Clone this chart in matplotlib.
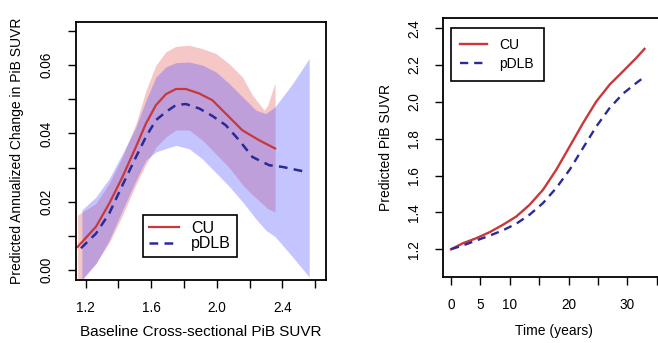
import matplotlib
matplotlib.use("Agg")
import matplotlib.pyplot as plt

plt.rcParams['font.family'] = ['Liberation Sans', 'DejaVu Sans']

# ---- Left panel data: annualized change vs baseline SUVR ----
cu_x = [1.151, 1.263, 1.344, 1.425, 1.507, 1.568, 1.629, 1.690, 1.751, 1.812,
        1.893, 1.974, 2.055, 2.157, 2.259, 2.356]
cu_y = [0.0068, 0.0127, 0.0195, 0.0273, 0.0361, 0.0429, 0.0483, 0.0515, 0.0530,
        0.0530, 0.0517, 0.0497, 0.0458, 0.0409, 0.0380, 0.0356]

cu_band_x = [1.151, 1.263, 1.344, 1.425, 1.507, 1.568, 1.629, 1.690, 1.751, 1.832,
             1.913, 1.995, 2.076, 2.157, 2.218, 2.289, 2.310, 2.356]
cu_upper = [0.0161, 0.0195, 0.0254, 0.0332, 0.0429, 0.0526, 0.0600, 0.0639, 0.0655,
            0.0658, 0.0648, 0.0634, 0.0604, 0.0565, 0.0512, 0.0468, 0.0482, 0.0548]
cu_lower = [-0.004, 0.002, 0.008, 0.016, 0.025, 0.031, 0.036, 0.039, 0.041, 0.041,
            0.038, 0.034, 0.030, 0.025, 0.022, 0.019, 0.018, 0.017]

dlb_x = [1.171, 1.263, 1.344, 1.425, 1.507, 1.568, 1.629, 1.690, 1.751, 1.812,
         1.893, 1.974, 2.055, 2.137, 2.218, 2.320, 2.401, 2.539]
dlb_y = [0.0064, 0.0107, 0.0166, 0.0249, 0.0331, 0.0390, 0.0439, 0.0463, 0.0483,
         0.0486, 0.0473, 0.0451, 0.0424, 0.0380, 0.0331, 0.0307, 0.0302, 0.0288]

dlb_band_x = [1.177, 1.263, 1.344, 1.425, 1.507, 1.568, 1.629, 1.690, 1.751, 1.832,
              1.913, 1.995, 2.076, 2.157, 2.239, 2.299, 2.356, 2.462, 2.564]
dlb_upper = [0.0176, 0.0214, 0.0268, 0.0341, 0.0419, 0.0497, 0.0565, 0.0595, 0.0607,
             0.0609, 0.0600, 0.0580, 0.0546, 0.0507, 0.0468, 0.0458, 0.0478, 0.0545, 0.0619]
dlb_lower = [-0.003, 0.0019, 0.0088, 0.0176, 0.0263, 0.0322, 0.0346, 0.0356, 0.0365,
             0.0355, 0.0325, 0.0285, 0.0245, 0.0200, 0.0150, 0.0117, 0.0098, 0.0039, -0.002]

# ---- Right panel data: predicted SUVR vs time ----
time_years = [0, 2.04, 4.31, 6.58, 8.84, 11.11, 13.38, 15.65, 17.91, 20.18,
              22.45, 24.72, 26.98, 29.25, 31.52, 32.9]
cu_suvr = [1.200, 1.233, 1.260, 1.293, 1.333, 1.378, 1.442, 1.523, 1.632, 1.758,
           1.885, 2.003, 2.094, 2.166, 2.239, 2.288]
dlb_suvr = [1.200, 1.221, 1.248, 1.274, 1.303, 1.339, 1.388, 1.451, 1.533, 1.632,
            1.750, 1.867, 1.967, 2.045, 2.103, 2.136]

left_xticks = [1.2, 1.4, 1.6, 1.8, 2.0, 2.2, 2.4, 2.6]
left_xticklabels = ['1.2', '', '1.6', '', '2.0', '', '2.4', '']
left_yticks = [0.00, 0.01, 0.02, 0.03, 0.04, 0.05, 0.06, 0.07]
left_yticklabels = ['0.00', '', '0.02', '', '0.04', '', '0.06', '']
right_xticks = [0, 5, 10, 15, 20, 25, 30, 35]
right_xticklabels = ['0', '5', '10', '', '20', '', '30', '']
right_yticks = [1.2, 1.4, 1.6, 1.8, 2.0, 2.2, 2.4]
right_yticklabels = ['1.2', '1.4', '1.6', '1.8', '2.0', '2.2', '2.4']

RED = '#C8383A'
BLUE = '#2A2A9A'
PINK_FILL = '#DE4848'
BLUE_FILL = '#5856FF'
TICK_FS = 9.8

fig = plt.figure(figsize=(6.58, 3.43), dpi=100)

def style_axes(ax):
    for s in ax.spines.values():
        s.set_linewidth(1.3)
        s.set_color('black')
    ax.tick_params(direction='out', length=6, width=1.0, labelsize=TICK_FS, colors='black')
    ax.tick_params(axis='x', pad=9)
    ax.tick_params(axis='y', pad=10)
    for lab in ax.get_yticklabels():
        lab.set_rotation(90)
        lab.set_va('center')

# Left panel
ax1 = fig.add_axes([0.1155, 0.1837, 0.3795, 0.753])
ax1.fill_between(cu_band_x, cu_lower, cu_upper, color=PINK_FILL, alpha=0.30, lw=0)
ax1.fill_between(dlb_band_x, dlb_lower, dlb_upper, color=BLUE_FILL, alpha=0.35, lw=0)
ax1.plot(cu_x, cu_y, color=RED, lw=1.6, label='CU')
ax1.plot(dlb_x, dlb_y, color=BLUE, lw=1.8, ls=(0, (3.5, 2.5)), label='pDLB')
ax1.set_xlim(1.141, 2.665)
ax1.set_ylim(-0.0029, 0.0727)
ax1.set_xticks(left_xticks)
ax1.set_xticklabels(left_xticklabels)
ax1.set_yticks(left_yticks)
ax1.set_yticklabels(left_yticklabels)
style_axes(ax1)
ax1.set_xlabel('Baseline Cross-sectional PiB SUVR', fontsize=11, labelpad=7)
ax1.set_ylabel('Predicted Annualized Change in PiB SUVR', fontsize=10, labelpad=11)
leg1 = ax1.legend(loc='upper left', bbox_to_anchor=(0.2695, 0.2516), borderaxespad=0,
                  fancybox=False, edgecolor='black', fontsize=11.5, handlelength=1.9,
                  labelspacing=0.05, borderpad=0.35, handletextpad=0.75, framealpha=1)
leg1.get_frame().set_linewidth(1.2)

# Right panel
ax2 = fig.add_axes([0.6737, 0.1933, 0.337, 0.7533])
ax2.plot(time_years, cu_suvr, color=RED, lw=1.7, label='CU')
ax2.plot(time_years, dlb_suvr, color=BLUE, lw=1.7, ls=(0, (3.5, 2.5)), label='pDLB')
ax2.set_xlim(-1.31, 36.4)
ax2.set_ylim(1.051, 2.454)
ax2.set_xticks(right_xticks)
ax2.set_xticklabels(right_xticklabels)
ax2.set_yticks(right_yticks)
ax2.set_yticklabels(right_yticklabels)
style_axes(ax2)
ax2.set_xlabel('Time (years)', fontsize=10, labelpad=9)
ax2.set_ylabel('Predicted PiB SUVR', fontsize=10, labelpad=10)
leg2 = ax2.legend(loc='upper left', bbox_to_anchor=(0.0334, 0.961), borderaxespad=0,
                  fancybox=False, edgecolor='black', fontsize=10, handlelength=1.9,
                  labelspacing=0.35, borderpad=0.7, handletextpad=0.9, framealpha=1)
leg2.get_frame().set_linewidth(1.2)

fig.savefig('out.png', dpi=100)
